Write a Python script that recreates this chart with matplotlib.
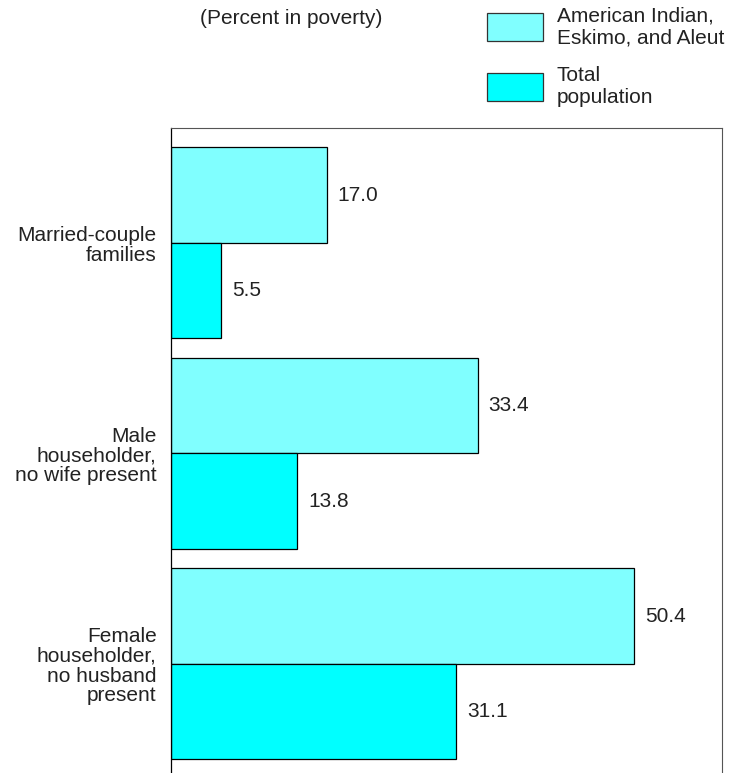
import numpy as np
import matplotlib
matplotlib.use("Agg")
import matplotlib.pyplot as plt

plt.rcParams['font.family'] = ['Liberation Sans', 'DejaVu Sans']

# Data (percent in poverty)
categories = ["Married-couple\nfamilies",
              "Male\nhouseholder,\nno wife present",
              "Female\nhouseholder,\nno husband\npresent"]
aian = [17.0, 33.4, 50.4]
total = [5.5, 13.8, 31.1]
series_names = ["American Indian,\nEskimo, and Aleut", "Total\npopulation"]

text_col = "#222222"
h = 0.4537
pos = np.arange(len(categories))

fig = plt.figure(figsize=(7.42, 7.73), dpi=100)
ax = fig.add_axes([170.5 / 742, 0, 551.5 / 742, 645 / 773])

b1 = ax.barh(pos - h / 2, aian, height=h, color="#80FFFF", edgecolor="black", linewidth=0.9,
             label=series_names[0])
b2 = ax.barh(pos + h / 2, total, height=h, color="#00FFFF", edgecolor="black", linewidth=0.9,
             label=series_names[1])

ax.bar_label(b1, fmt="%.1f", padding=8, fontsize=15, color=text_col)
ax.bar_label(b2, fmt="%.1f", padding=8, fontsize=15, color=text_col)

ax.set_xlim(0, 60)
ax.set_ylim(2.518, -0.546)
ax.set_xticks([])
ax.set_yticks(pos)
ax.set_yticklabels(categories, fontsize=15, color=text_col, linespacing=1.05)
ax.tick_params(axis="y", length=0, pad=10)

ax.spines["bottom"].set_visible(False)
ax.spines["left"].set_color("black")
ax.spines["left"].set_linewidth(0.9)
for s in ["top", "right"]:
    ax.spines[s].set_color("#555555")
    ax.spines[s].set_linewidth(0.8)

fig.text(200 / 742, 1 - 18 / 773, "(Percent in poverty)", fontsize=15, color=text_col,
         ha="left", va="center")

leg = fig.legend(handles=[b1, b2], loc="upper left", bbox_to_anchor=(487 / 742, 1 - 6 / 773),
                 frameon=False, fontsize=15, handlelength=2.7, handleheight=1.7,
                 handletextpad=0.65, labelspacing=0.9, borderpad=0, borderaxespad=0,
                 labelcolor=text_col)
for p in leg.get_patches():
    p.set_edgecolor("#333333")

fig.savefig("out.png", dpi=100)
